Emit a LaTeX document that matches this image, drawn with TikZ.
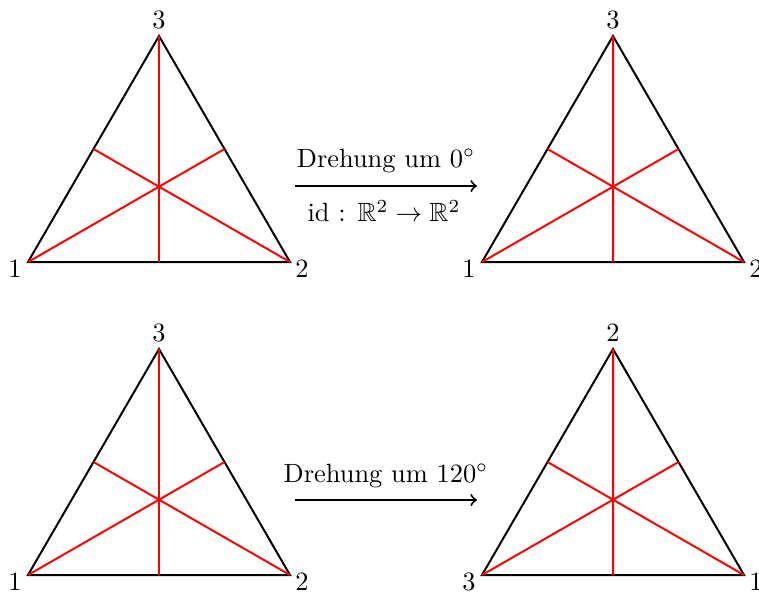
\documentclass[tikz,border=0pt]{standalone}
\usepackage{amssymb}
\usetikzlibrary{calc}
\begin{document}
\begin{tikzpicture}[x=0.3788pt,y=-0.3788pt,
  tri/.style={line width=0.75pt,line join=miter},
  med/.style={red,line width=0.75pt},
  lbl/.style={inner sep=0pt},
  maparrow/.style={->,line width=0.75pt}]
\useasboundingbox (0,0) rectangle (759,593);
\foreach \n/\x/\y/\l/\r/\t in {a/28/262/1/2/3, b/482/262/1/2/3, c/28/575/1/2/3, d/482/575/3/1/2} {
  \coordinate (\n1) at (\x,\y);
  \coordinate (\n2) at (\x+262,\y);
  \coordinate (\n3) at (\x+131,\y-226);
  \draw[tri] (\n1) -- (\n2) -- (\n3) -- cycle;
  \draw[med] (\n1) -- ($(\n2)!0.5!(\n3)$) (\n2) -- ($(\n1)!0.5!(\n3)$) (\n3) -- ($(\n1)!0.5!(\n2)$);
  \node[lbl] (\n L) at ($(\n1)+(-13,7)$) {\l};
  \node[lbl] (\n R) at ($(\n2)+(12,7)$) {\r};
  \node[lbl] (\n T) at ($(\n3)+(0,-16)$) {\t};
}
\coordinate (p1) at (295,186);
\coordinate (p2) at (477,186);
\draw[maparrow] (p1) -- (p2);
\node[lbl] (t1) at (386,161) {Drehung um $0^\circ$};
\node[lbl] (t2) at (384,211) {id : $\mathbb{R}^2\to\mathbb{R}^2$};
\coordinate (q1) at (295,500);
\coordinate (q2) at (477,500);
\draw[maparrow] (q1) -- (q2);
\node[lbl] (t3) at (386,476) {Drehung um $120^\circ$};
\end{tikzpicture}
\end{document}
